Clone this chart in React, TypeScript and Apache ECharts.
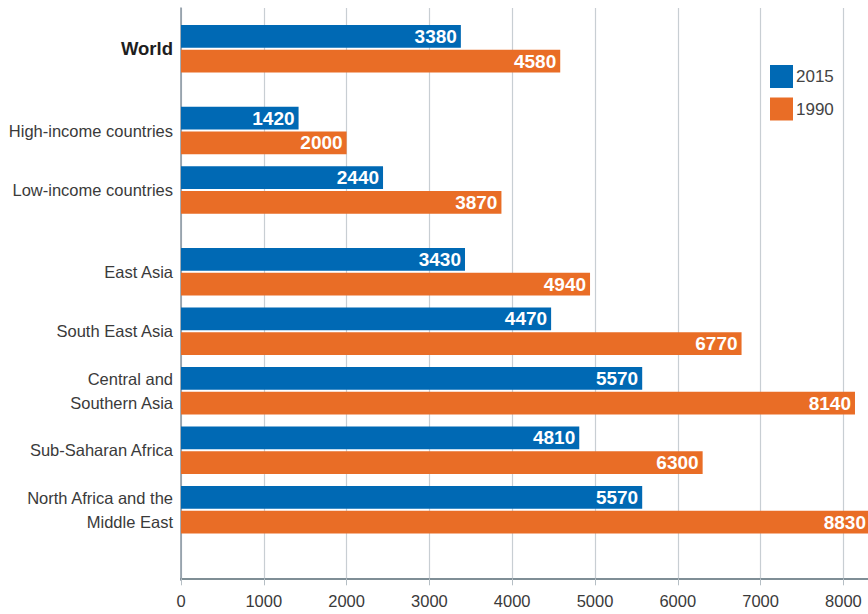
import React, { useEffect, useRef } from "react";
import * as echarts from "echarts";

const categories = [
  "World",
  "High-income countries",
  "Low-income countries",
  "East Asia",
  "South East Asia",
  "Central and\nSouthern Asia",
  "Sub-Saharan Africa",
  "North Africa and the\nMiddle East",
];
const values2015 = [3380, 1420, 2440, 3430, 4470, 5570, 4810, 5570];
const values1990 = [4580, 2000, 3870, 4940, 6770, 8140, 6300, 8830];
const seriesNames = ["2015", "1990"];
const xMin = 0;
const xMax = 9000;
const xInterval = 1000;

// layout: fine category slots so that groups get extra spacing
const TOTAL_SLOTS = 77;
const ROW_SLOTS = [5, 16, 24, 35, 43, 51, 59, 67];

const W = 868;
const H = 614;
const GRID_LEFT = 181;
const PX_PER_UNIT = 0.0828;
const GRID_RIGHT = W - (GRID_LEFT + xMax * PX_PER_UNIT);

const FONT = '"Liberation Sans", Arial, sans-serif';
const BLUE = "#0069B4";
const ORANGE = "#E96D26";

export default function App() {
  const ref = useRef<HTMLDivElement>(null);
  useEffect(() => {
    if (!ref.current) return;
    const chart = echarts.init(ref.current, undefined, { renderer: "svg" });

    const slotNames: string[] = [];
    for (let i = 0; i < TOTAL_SLOTS; i++) slotNames.push("_s" + i);
    ROW_SLOTS.forEach((s, k) => (slotNames[s] = categories[k]));

    const build = (vals: number[]) => {
      const arr: any[] = new Array(TOTAL_SLOTS).fill("-");
      ROW_SLOTS.forEach((s, k) => {
        const v = vals[k];
        const end = GRID_LEFT + v * PX_PER_UNIT;
        if (end > W) {
          arr[s] = { value: v, label: { offset: [-(end - W - 2), 0] } };
        } else {
          arr[s] = v;
        }
      });
      return arr;
    };

    const label = {
      show: true,
      position: "insideRight",
      distance: 4,
      color: "#ffffff",
      fontWeight: "bold",
      fontSize: 19,
      fontFamily: FONT,
    };

    chart.setOption({
      animation: false,
      textStyle: { fontFamily: FONT },
      grid: {
        left: GRID_LEFT,
        right: GRID_RIGHT,
        top: 7.9,
        bottom: 33.7,
        containLabel: false,
        outerBoundsMode: "none",
      },
      legend: {
        orient: "vertical",
        left: 770,
        top: 65,
        padding: 0,
        itemWidth: 23,
        itemHeight: 23,
        itemGap: 9.5,
        icon: "rect",
        data: seriesNames,
        textStyle: { fontFamily: FONT, fontSize: 17, color: "#444444", padding: [0, 0, 0, -2] },
      },
      xAxis: {
        type: "value",
        min: xMin,
        max: xMax,
        interval: xInterval,
        offset: -2,
        axisLine: { show: true, lineStyle: { color: "#556973", width: 1.5 } },
        axisTick: { show: true, length: 7, lineStyle: { color: "#b5bec4" } },
        splitLine: { show: true, lineStyle: { color: "#c8ced3", width: 1.2 } },
        axisLabel: {
          margin: 14,
          fontSize: 16.5,
          color: "#3a3a3a",
          fontFamily: FONT,
          formatter: (v: number) => (v >= xMax ? "" : String(v)),
        },
      },
      yAxis: {
        type: "category",
        inverse: true,
        data: slotNames,
        axisLine: { show: true, lineStyle: { color: "#8795a0", width: 1.5 } },
        axisTick: { show: false },
        splitLine: { show: false },
        axisLabel: {
          interval: 0,
          margin: 8,
          fontSize: 16.5,
          lineHeight: 24,
          color: "#3a3a3a",
          fontFamily: FONT,
          formatter: (v: string) => {
            if (v.startsWith("_s")) return "";
            if (v === "World") return "{b|World}";
            return v;
          },
          rich: {
            b: { fontWeight: "bold", fontSize: 18.5, color: "#1e1e1e", fontFamily: FONT },
          },
        },
      },
      series: [
        {
          name: seriesNames[0],
          type: "bar",
          data: build(values2015),
          barWidth: 22.7,
          barGap: "9%",
          itemStyle: { color: BLUE },
          label,
        },
        {
          name: seriesNames[1],
          type: "bar",
          data: build(values1990),
          barWidth: 22.7,
          barGap: "9%",
          itemStyle: { color: ORANGE },
          label,
        },
      ],
    });
    return () => chart.dispose();
  }, []);
  return (
    <div
      ref={ref}
      style={{ width: W, height: H, position: "fixed", left: 0, top: 0, background: "#fff" }}
    />
  );
}
